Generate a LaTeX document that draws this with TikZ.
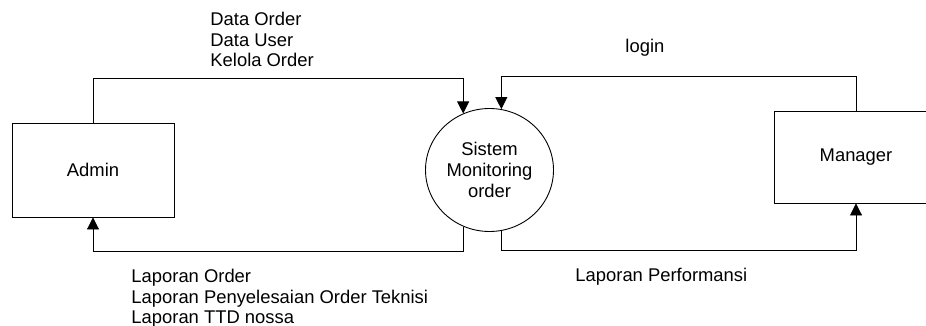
\documentclass[tikz,border=0pt]{standalone}
\usepackage{fontspec}
\setmainfont{Liberation Sans}
\usetikzlibrary{shapes.geometric,arrows.meta}
\newcommand\diagfont{\fontsize{18.4}{21}\selectfont}
\begin{document}
\begin{tikzpicture}[x=1pt,y=-1pt,line width=0.9pt,
  ent/.style={draw,rectangle,inner sep=0pt,font=\diagfont},
  proc/.style={draw,ellipse,inner sep=0pt,minimum width=128pt,minimum height=123pt,align=center,font=\diagfont},
  lbl/.style={anchor=base west,inner sep=0pt,font=\diagfont},
  flow/.style={-{Triangle[width=12pt,length=12pt]}}]
\useasboundingbox (0,0) rectangle (926,326);
% entities and process
\node[ent,minimum width=162pt,minimum height=94pt] (admin) at (93,170) {Admin};
\node[ent,minimum width=164pt,minimum height=92pt] (mgr) at (856,157) {Manager};
\node[proc] (proc) at (489.5,170) {Sistem\\Monitoring\\order};
% flows
\draw[flow] (admin.north) -- ++(0,-44) -| (proc.115);
\draw[flow] (mgr.north) -- ++(0,-34) -| (proc.79);
\draw[flow] (proc.-115) -- ++(0,25) -| (admin.south);
\draw[flow] (proc.-79) -- ++(0,20) -| (mgr.south);
% labels
\node[lbl] (l1) at (210,26) {Data Order};
\node[lbl] (l2) at (210,46.5) {Data User};
\node[lbl] (l3) at (210,67) {Kelola Order};
\node[lbl] (l4) at (625,53) {login};
\node[lbl] (l5) at (131,282) {Laporan Order};
\node[lbl] (l6) at (131,303) {Laporan Penyelesaian Order Teknisi};
\node[lbl] (l7) at (131,323) {Laporan TTD nossa};
\node[lbl] (l8) at (575,281) {Laporan Performansi};
\end{tikzpicture}
\end{document}
